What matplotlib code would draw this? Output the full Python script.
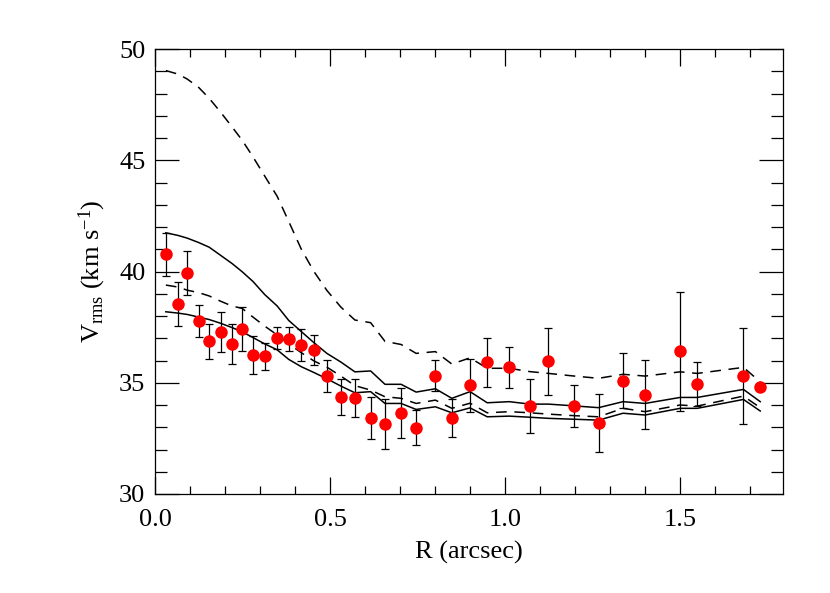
import numpy as np
import matplotlib
matplotlib.use('Agg')
import matplotlib.pyplot as plt
from matplotlib.ticker import MultipleLocator

plt.rcParams['font.family'] = ['Liberation Serif', 'DejaVu Serif']
plt.rcParams['mathtext.fontset'] = 'custom'
plt.rcParams['mathtext.rm'] = 'Liberation Serif'
plt.rcParams['mathtext.it'] = 'Liberation Serif:italic'

# data points
r_obs = [0.031, 0.092, 0.066, 0.125, 0.155, 0.188, 0.220, 0.249, 0.280, 0.313,
         0.349, 0.382, 0.418, 0.454, 0.491, 0.531, 0.571, 0.616, 0.657, 0.703,
         0.746, 0.801, 0.848, 0.900, 0.949, 1.012, 1.071, 1.124, 1.198, 1.267,
         1.337, 1.400, 1.500, 1.549, 1.681, 1.729]
v_obs = [40.77, 39.94, 38.54, 37.77, 36.86, 37.28, 36.75, 37.40, 36.24, 36.19,
         37.02, 36.95, 36.69, 36.47, 35.29, 34.36, 34.30, 33.43, 33.13, 33.63,
         32.98, 35.31, 33.40, 34.88, 35.92, 35.69, 33.95, 35.96, 33.95, 33.18,
         35.09, 34.46, 36.41, 34.94, 35.31, 34.82]
v_err = [0.98, 1.00, 1.00, 0.72, 0.80, 0.90, 0.89, 0.99, 0.85, 0.61,
         0.50, 0.54, 0.71, 0.69, 0.72, 0.79, 0.85, 0.94, 1.12, 1.12,
         0.79, 0.70, 0.85, 1.20, 1.09, 0.93, 1.23, 1.51, 0.96, 1.31,
         1.23, 1.56, 2.68, 0.99, 2.16, 0.0]

# model curves
r_mod = [0.031, 0.066, 0.092, 0.125, 0.155, 0.188, 0.220, 0.249, 0.280, 0.313,
         0.349, 0.382, 0.418, 0.454, 0.491, 0.531, 0.571, 0.616, 0.657, 0.703,
         0.746, 0.801, 0.848, 0.900, 0.949, 1.012, 1.071, 1.124, 1.198, 1.267,
         1.337, 1.400, 1.500, 1.549, 1.681, 1.729]
mod_dash_hi = [49.03, 48.87, 48.65, 48.27, 47.78, 47.15, 46.50, 45.90, 45.15, 44.30,
               43.38, 42.25, 41.00, 40.00, 39.15, 38.40, 37.82, 37.70, 36.86, 36.72,
               36.32, 36.40, 35.84, 36.12, 35.65, 35.65, 35.50, 35.42, 35.30, 35.20,
               35.38, 35.30, 35.49, 35.42, 35.69, 35.04]
mod_solid_hi = [41.74, 41.62, 41.50, 41.30, 41.09, 40.72, 40.36, 39.99, 39.55, 38.97,
                38.45, 37.80, 37.30, 36.80, 36.32, 35.93, 35.49, 35.53, 34.93, 34.93,
                34.58, 34.73, 34.30, 34.60, 34.10, 34.15, 34.04, 34.04, 33.96, 33.88,
                34.15, 34.07, 34.34, 34.34, 34.70, 34.15]
mod_dash_lo = [39.39, 39.30, 39.16, 39.05, 38.90, 38.66, 38.45, 38.34, 37.95, 37.55,
               37.15, 36.75, 36.35, 35.98, 35.70, 35.30, 34.87, 34.67, 34.37, 34.30,
               34.07, 34.22, 33.85, 34.08, 33.65, 33.70, 33.65, 33.59, 33.52, 33.47,
               33.85, 33.70, 34.00, 33.95, 34.40, 33.88]
mod_solid_lo = [38.19, 38.13, 38.07, 37.95, 37.84, 37.67, 37.48, 37.29, 37.03, 36.75,
                36.48, 36.05, 35.72, 35.46, 35.18, 34.85, 34.55, 34.60, 34.07, 34.07,
                33.80, 33.92, 33.65, 33.87, 33.47, 33.50, 33.45, 33.40, 33.36, 33.32,
                33.63, 33.55, 33.85, 33.85, 34.25, 33.73]

fig = plt.figure(figsize=(8.3, 5.93), dpi=100)
ax = fig.add_axes([155/830, 1-494/593, 628/830, 445/593])

lw = 1.1
dash = (7, 5)
ax.plot(r_mod, mod_dash_hi, color='k', lw=lw, dashes=dash)
ax.plot(r_mod, mod_solid_hi, color='k', lw=lw)
ax.plot(r_mod, mod_dash_lo, color='k', lw=lw, dashes=dash)
ax.plot(r_mod, mod_solid_lo, color='k', lw=lw)

ax.errorbar(r_obs, v_obs, yerr=v_err, fmt='none', ecolor='k', elinewidth=0.9,
            capsize=3.2, capthick=0.9, zorder=3)
ax.plot(r_obs, v_obs, 'o', color='red', markersize=9, markeredgewidth=0, zorder=4)

ax.set_xlim(0, 1.794)
ax.set_ylim(30, 50)
ax.xaxis.set_major_locator(MultipleLocator(0.5))
ax.xaxis.set_minor_locator(MultipleLocator(0.1))
ax.yaxis.set_major_locator(MultipleLocator(5))
ax.yaxis.set_minor_locator(MultipleLocator(1))
ax.xaxis.set_major_formatter(plt.FormatStrFormatter('%.1f'))
ax.yaxis.set_major_formatter(plt.FormatStrFormatter('%d'))

ax.tick_params(which='both', direction='in', top=True, right=True, width=0.9,
               labelsize=19, colors='k')
ax.tick_params(axis='x', which='major', length=12.5, pad=11)
ax.tick_params(axis='x', which='minor', length=6)
ax.tick_params(axis='y', which='major', length=17.5, pad=7)
ax.tick_params(axis='y', which='minor', length=8.6)
for s in ax.spines.values():
    s.set_linewidth(0.9)

ax.set_xlabel('R (arcsec)', fontsize=19, labelpad=7)
ax.set_ylabel(r'V$_{\rm rms}$ (km s$^{-1}$)', fontsize=19, labelpad=8)

fig.savefig('out.png', dpi=100)
